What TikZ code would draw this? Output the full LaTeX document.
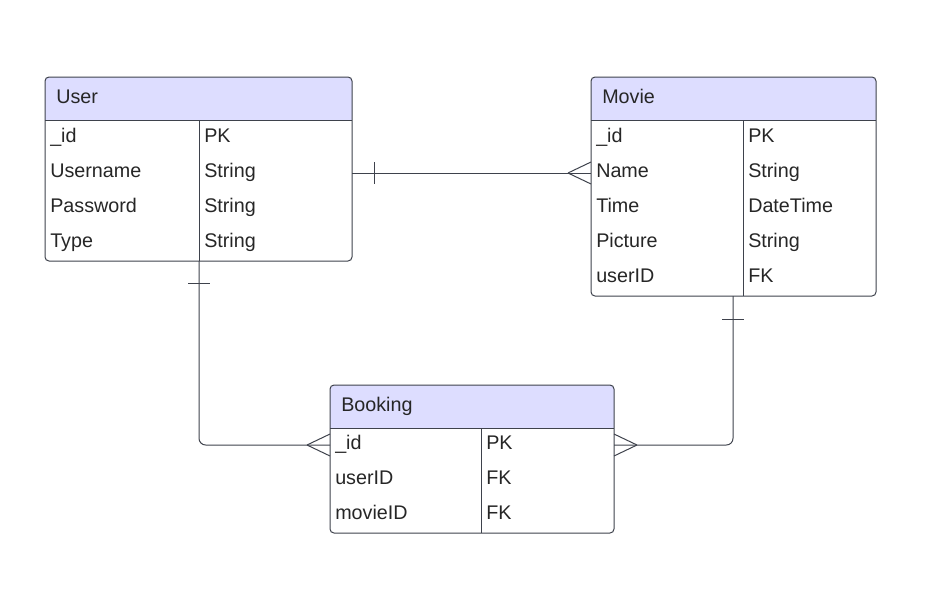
\documentclass[tikz,border=0pt]{standalone}
\usepackage{fontspec}
\setmainfont{Liberation Sans}
\usetikzlibrary{positioning}
\definecolor{hdrfill}{RGB}{221,221,255}
\definecolor{lineclr}{RGB}{62,66,76}

\tikzset{
  tbl/.style={draw=lineclr, line width=0.75pt, rounded corners=3pt},
  sep/.style={draw=lineclr, line width=0.75pt},
  cell/.style={anchor=base west, inner sep=0pt, text=black!85,
    font=\fontsize{14.8}{17}\selectfont},
  rel/.style={draw=lineclr, line width=0.75pt},
  pics/crow/.style={code={\draw[rel] (-23,0) -- (0,-11) (-23,0) -- (0,11);}},
  pics/onebar/.style={code={\draw[rel] (0,-11) -- (0,11);}},
}

\begin{document}
\begin{tikzpicture}[x=0.75pt, y=-0.75pt]
    \useasboundingbox (0,0) rectangle (934,593);

    % User
    \fill[hdrfill, rounded corners=3pt] (45,120) -- (45,77) -- (352,77) -- (352,120) -- cycle;
    \fill[hdrfill] (45,110) rectangle (352,120);
    \draw[tbl] (45,77) rectangle (352,261);
    \draw[sep] (45,120) -- (352,120) (199,120) -- (199,261);
    \node[cell] (user) at (56,103) {User};
    \foreach \f/\t [count=\i] in {\_id/PK, Username/String, Password/String, Type/String}{
        \node[cell] (user-f\i) at (50,107+35*\i) {\f};
        \node[cell] (user-t\i) at (204,107+35*\i) {\t};
    }

    % Movie
    \fill[hdrfill, rounded corners=3pt] (591,120) -- (591,77) -- (876,77) -- (876,120) -- cycle;
    \fill[hdrfill] (591,110) rectangle (876,120);
    \draw[tbl] (591,77) rectangle (876,296);
    \draw[sep] (591,120) -- (876,120) (743,120) -- (743,296);
    \node[cell] (movie) at (602,103) {Movie};
    \foreach \f/\t [count=\i] in {\_id/PK, Name/String, Time/DateTime, Picture/String, userID/FK}{
        \node[cell] (movie-f\i) at (596,107+35*\i) {\f};
        \node[cell] (movie-t\i) at (748,107+35*\i) {\t};
    }

    % Booking
    \fill[hdrfill, rounded corners=3pt] (330,428) -- (330,385) -- (614,385) -- (614,428) -- cycle;
    \fill[hdrfill] (330,418) rectangle (614,428);
    \draw[tbl] (330,385) rectangle (614,533);
    \draw[sep] (330,428) -- (614,428) (481,428) -- (481,533);
    \node[cell] (booking) at (341,411) {Booking};
    \foreach \f/\t [count=\i] in {\_id/PK, userID/FK, movieID/FK}{
        \node[cell] (booking-f\i) at (335,414+35*\i) {\f};
        \node[cell] (booking-t\i) at (486,414+35*\i) {\t};
    }

    % connector ends
    \coordinate (userR) at (352,173);
    \coordinate (userB) at (199,261);
    \coordinate (movieL) at (591,173);
    \coordinate (movieB) at (733,296);
    \coordinate (bookL) at (330,445);
    \coordinate (bookR) at (614,445);

    % User -- Movie
    \draw[rel] (userR) -- (movieL);
    \path (userR) ++(22,0) pic {onebar};
    \path (movieL) pic {crow};

    % User -- Booking
    \draw[rel, rounded corners=5pt] (userB) |- (bookL);
    \path (userB) ++(0,22) pic[rotate=90] {onebar};
    \path (bookL) pic {crow};

    % Movie -- Booking
    \draw[rel, rounded corners=5pt] (movieB) |- (bookR);
    \path (movieB) ++(0,23) pic[rotate=90] {onebar};
    \path (bookR) pic[xscale=-1] {crow};
\end{tikzpicture}
\end{document}
